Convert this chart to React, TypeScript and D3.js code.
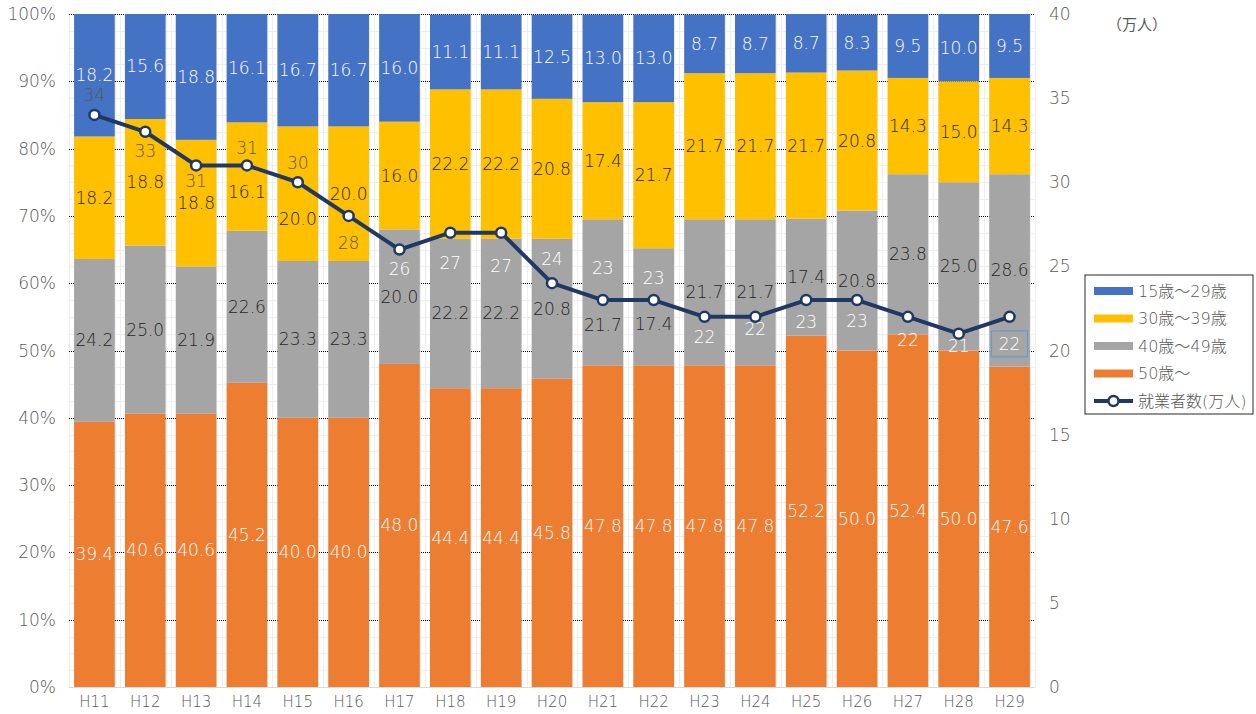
import React, { useRef, useEffect } from "react";
import * as d3 from "d3";

// years (Heisei)
const years = ["H11", "H12", "H13", "H14", "H15", "H16", "H17", "H18", "H19", "H20", "H21", "H22", "H23", "H24", "H25", "H26", "H27", "H28", "H29"];

// age group shares (%), bottom to top
const age50plus = [39.4, 40.6, 40.6, 45.2, 40.0, 40.0, 48.0, 44.4, 44.4, 45.8, 47.8, 47.8, 47.8, 47.8, 52.2, 50.0, 52.4, 50.0, 47.6];
const age40s = [24.2, 25.0, 21.9, 22.6, 23.3, 23.3, 20.0, 22.2, 22.2, 20.8, 21.7, 17.4, 21.7, 21.7, 17.4, 20.8, 23.8, 25.0, 28.6];
const age30s = [18.2, 18.8, 18.8, 16.1, 20.0, 20.0, 16.0, 22.2, 22.2, 20.8, 17.4, 21.7, 21.7, 21.7, 21.7, 20.8, 14.3, 15.0, 14.3];
const age15to29 = [18.2, 15.6, 18.8, 16.1, 16.7, 16.7, 16.0, 11.1, 11.1, 12.5, 13.0, 13.0, 8.7, 8.7, 8.7, 8.3, 9.5, 10.0, 9.5];

// employed persons (10k people)
const workers = [34, 33, 31, 31, 30, 28, 26, 27, 27, 24, 23, 23, 22, 22, 23, 23, 22, 21, 22];

const seriesNames = ["15歳～29歳", "30歳～39歳", "40歳～49歳", "50歳～"];
const lineName = "就業者数(万人)";

// hand placed label offsets (px) – the original moved some labels off the line
const lineLabelDy = [-20, 19, 16, -17, -19, 27, 19, 30, 33, -24, -32, -22, 20, 12, 22, 21, 23, 12, 27];
const lineLabelWhite = [false, false, false, false, false, false, true, true, true, true, true, true, true, true, true, true, true, true, true];
const nudge30s = [0, 0, 0, 15, 25, 0, 0, 0, 0, 0, 0, 0, 0, 0, 0, 0, 0, 0, 0];
const nudge40s = [0, 0, 0, 0, 0, 0, 0, 0, 0, 0, 33, 17, 0, 0, 0, 0, 0, 0, 0];

const W = 1256;
const H = 714;
const margin = { top: 14, right: 221, bottom: 27, left: 69 };
const FONT = "'DejaVu Sans', 'Noto Sans CJK JP', sans-serif";
const navy = "#203864";

export default function App() {
  const svgRef = useRef<SVGSVGElement>(null);

  useEffect(() => {
    const svg = d3.select(svgRef.current);
    svg.selectAll("*").remove();

    const innerW = W - margin.left - margin.right;
    const innerH = H - margin.top - margin.bottom;
    const g = svg.append("g").attr("transform", `translate(${margin.left},${margin.top})`);

    const x = d3.scaleBand().domain(years).range([0, innerW]).paddingInner(0.2).paddingOuter(0.1);
    const y = d3.scaleLinear().domain([0, 100]).range([innerH, 0]).clamp(true);
    const y2 = d3.scaleLinear().domain([0, 40]).range([innerH, 0]);

    // minor grid
    const minor = g.append("g").attr("stroke", "#eeeeee").attr("stroke-width", 1);
    d3.range(0, 100.01, 2.5).forEach((v) => {
      minor.append("line").attr("x1", 0).attr("x2", innerW).attr("y1", Math.round(y(v)) + 0.5).attr("y2", Math.round(y(v)) + 0.5);
    });
    const vStep = x.step() / 10;
    d3.range(0, innerW + 0.1, vStep).forEach((v) => {
      minor.append("line").attr("y1", 0).attr("y2", innerH).attr("x1", Math.round(v) + 0.5).attr("x2", Math.round(v) + 0.5);
    });

    // major dotted grid
    d3.range(10, 100.01, 10).forEach((v) => {
      g.append("line")
        .attr("x1", 0).attr("x2", innerW)
        .attr("y1", Math.round(y(v)) + 0.5).attr("y2", Math.round(y(v)) + 0.5)
        .attr("stroke", "#000").attr("stroke-width", 1).attr("stroke-dasharray", "1,1");
    });

    // stacked data
    const rows = years.map((yr, i) => ({
      idx: i,
      year: yr,
      a50: age50plus[i],
      a40: age40s[i],
      a30: age30s[i],
      a15: age15to29[i],
    }));
    const keys = ["a50", "a40", "a30", "a15"];
    const colors: Record<string, string> = { a50: "#ED7D31", a40: "#A5A5A5", a30: "#FFC000", a15: "#4472C4" };
    const labelColors: Record<string, string> = { a50: "#ffffff", a40: "#262626", a30: "#262626", a15: "#ffffff" };
    const nudges: Record<string, number[]> = { a30: nudge30s, a40: nudge40s };
    const stacked = d3.stack<any>().keys(keys)(rows);

    stacked.forEach((layer) => {
      g.append("g")
        .selectAll("rect")
        .data(layer)
        .enter()
        .append("rect")
        .attr("x", (d: any) => x(d.data.year)!)
        .attr("width", x.bandwidth())
        .attr("y", (d: any) => y(d[1]))
        .attr("height", (d: any) => y(d[0]) - y(d[1]))
        .attr("fill", colors[layer.key]);
    });

    // bottom axis line
    g.append("line")
      .attr("x1", 0).attr("x2", innerW)
      .attr("y1", innerH + 0.5).attr("y2", innerH + 0.5)
      .attr("stroke", "#d9d9d9");

    // bar value labels
    stacked.forEach((layer) => {
      const nd = nudges[layer.key];
      g.append("g")
        .selectAll("text")
        .data(layer)
        .enter()
        .append("text")
        .attr("x", (d: any) => x(d.data.year)! + x.bandwidth() / 2)
        .attr("y", (d: any) => y((d[0] + d[1]) / 2) + (nd ? nd[d.data.idx] : 0))
        .attr("text-anchor", "middle")
        .attr("dominant-baseline", "central")
        .style("font-family", FONT)
        .style("font-size", "17px")
        .style("font-weight", 300)
        .attr("fill", labelColors[layer.key])
        .text((d: any) => (d[1] - d[0]).toFixed(1));
    });

    // line
    const cx = (i: number) => x(years[i])! + x.bandwidth() / 2;
    const line = d3.line<number>().x((_, i) => cx(i)).y((d) => y2(d));
    g.append("path")
      .datum(workers)
      .attr("d", line)
      .attr("fill", "none")
      .attr("stroke", navy)
      .attr("stroke-width", 4)
      .attr("stroke-linejoin", "round");
    g.append("g")
      .selectAll("circle")
      .data(workers)
      .enter()
      .append("circle")
      .attr("cx", (_, i) => cx(i))
      .attr("cy", (d) => y2(d))
      .attr("r", 5)
      .attr("fill", "#fff")
      .attr("stroke", navy)
      .attr("stroke-width", 2.5);

    // line labels
    g.append("g")
      .selectAll("text")
      .data(workers)
      .enter()
      .append("text")
      .attr("x", (_, i) => cx(i))
      .attr("y", (d, i) => y2(d) + lineLabelDy[i])
      .attr("text-anchor", "middle")
      .attr("dominant-baseline", "central")
      .style("font-family", FONT)
      .style("font-size", "17px")
      .style("font-weight", 300)
      .attr("fill", (_, i) => (lineLabelWhite[i] ? "#ffffff" : "#595959"))
      .text((d) => d);

    // selected label frame on last point
    const last = workers.length - 1;
    g.append("rect")
      .attr("x", cx(last) - 18)
      .attr("y", y2(workers[last]) + lineLabelDy[last] - 13)
      .attr("width", 36)
      .attr("height", 26)
      .attr("fill", "none")
      .attr("stroke", "#5B9BD5")
      .attr("stroke-width", 1);

    // left axis labels
    g.append("g")
      .selectAll("text")
      .data(d3.range(0, 101, 10))
      .enter()
      .append("text")
      .attr("x", -13)
      .attr("y", (d) => y(d))
      .attr("text-anchor", "end")
      .attr("dominant-baseline", "central")
      .style("font-family", FONT)
      .style("font-size", "17px")
      .style("font-weight", 300)
      .attr("fill", "#595959")
      .text((d) => `${d}%`);

    // right axis labels
    g.append("g")
      .selectAll("text")
      .data(d3.range(0, 41, 5))
      .enter()
      .append("text")
      .attr("x", innerW + 14)
      .attr("y", (d) => y2(d))
      .attr("dominant-baseline", "central")
      .style("font-family", FONT)
      .style("font-size", "17px")
      .style("font-weight", 300)
      .attr("fill", "#595959")
      .text((d) => d);

    // x axis labels
    g.append("g")
      .selectAll("text")
      .data(years)
      .enter()
      .append("text")
      .attr("x", (d) => x(d)! + x.bandwidth() / 2)
      .attr("y", innerH + 15)
      .attr("text-anchor", "middle")
      .attr("dominant-baseline", "central")
      .style("font-family", FONT)
      .style("font-size", "15px")
      .style("font-weight", 300)
      .attr("fill", "#595959")
      .text((d) => d);

    // unit
    svg.append("text")
      .attr("x", 1107)
      .attr("y", 25)
      .attr("dominant-baseline", "central")
      .style("font-family", FONT)
      .style("font-size", "15px")
      .attr("fill", "#595959")
      .text("（万人）");

    // legend
    const lg = svg.append("g").attr("transform", "translate(1085,275)");
    lg.append("rect").attr("width", 168).attr("height", 139).attr("fill", "#fff").attr("stroke", "#262626").attr("stroke-width", 1);
    const legendKeys = ["a15", "a30", "a40", "a50"];
    legendKeys.forEach((k, i) => {
      const ly = 16 + i * 27.5;
      lg.append("rect").attr("x", 9).attr("y", ly - 4).attr("width", 39).attr("height", 8).attr("fill", colors[k]);
      lg.append("text")
        .attr("x", 53).attr("y", ly)
        .attr("dominant-baseline", "central")
        .style("font-family", FONT)
        .style("font-size", "16px")
        .style("font-weight", 300)
        .attr("fill", "#595959")
        .text(seriesNames[i]);
    });
    const ly = 16 + 4 * 27.5;
    lg.append("line").attr("x1", 9).attr("x2", 48).attr("y1", ly).attr("y2", ly).attr("stroke", navy).attr("stroke-width", 4);
    lg.append("circle").attr("cx", 28.5).attr("cy", ly).attr("r", 5).attr("fill", "#fff").attr("stroke", navy).attr("stroke-width", 2.5);
    lg.append("text")
      .attr("x", 53).attr("y", ly)
      .attr("dominant-baseline", "central")
      .style("font-family", FONT)
      .style("font-size", "16px")
      .style("font-weight", 300)
      .attr("fill", "#595959")
      .text(lineName);
  }, []);

  return (
    <svg
      ref={svgRef}
      width={W}
      height={H}
      style={{ position: "absolute", left: 0, top: 0, background: "#fff" }}
    />
  );
}
